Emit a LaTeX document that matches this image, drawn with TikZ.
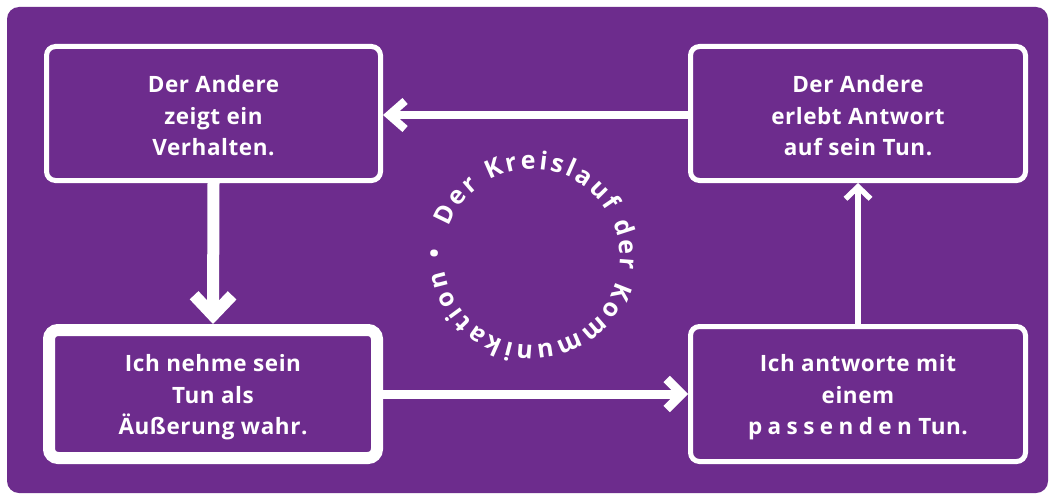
\documentclass[tikz,border=0pt]{standalone}
\usepackage{fontspec}
\setmainfont{Open Sans}
\newfontfamily\boxfont{Open Sans}[LetterSpace=2.5]
\newfontfamily\ringfont{Open Sans}[LetterSpace=0]
\usetikzlibrary{arrows.meta,decorations.text}
\definecolor{bgpurple}{RGB}{109,44,141}
\newcommand{\topstrut}{\rule{0pt}{22pt}}
\newcommand{\botstrut}{\rule{0pt}{24pt}}
\begin{document}
\begin{tikzpicture}[x=1pt,y=-1pt,
  box/.style={draw=white, line width=5pt, rounded corners=9pt, fill=bgpurple,
    align=center, text=white, inner sep=0pt,
    font=\boxfont\bfseries\fontsize{22.5}{31.5}\selectfont},
  flow/.style={draw=white, line width=#1},
  barb/.style args={#1/#2}{-{Straight Barb[sharp,length=#1,width=#2]}}]
\useasboundingbox (0,0) rectangle (1051,495);
\fill[white] (0,0) rectangle (1051,495);
\fill[bgpurple, rounded corners=12pt] (7,7) rectangle (1048,493);
\node[box, minimum width=334pt, minimum height=134pt] (b1) at (213.5,113.5) {\topstrut Der Andere\\zeigt ein\\Verhalten.};
\node[box, line width=12pt, minimum width=328pt, minimum height=128pt] (b2) at (213,394) {\botstrut Ich nehme sein\\Tun als\\Äußerung wahr.};
\node[box, minimum width=335pt, minimum height=135pt] (b3) at (858,394) {\botstrut Ich antworte mit\\einem\\{\addfontfeatures{LetterSpace=24}passenden} Tun.};
\node[box, minimum width=335pt, minimum height=134pt] (b4) at (858,113.5) {\topstrut Der Andere\\erlebt Antwort\\auf sein Tun.};
\draw[flow=8pt, barb=16pt/28pt] ([yshift=-1.5pt]b4.west) -- ([yshift=-1.5pt]b1.east);
\draw[flow=12pt, barb=20pt/38pt] (b1.south) -- (b2.north);
\draw[flow=9pt, barb=15pt/30pt] (b2.east) -- (b3.west);
\draw[flow=5.5pt, barb=12pt/25pt] (b3.north) -- (b4.south);
\coordinate (cc) at (532,257);
\path[decorate, decoration={text along path, text align={fit to path},
  text={|\ringfont\bfseries\color{white}\fontsize{25}{29}\selectfont|Der Kreislauf der Kommunikation •}}]
  (cc) ++(-160:88) arc[start angle=-160, end angle=185, radius=88];
\end{tikzpicture}
\end{document}
